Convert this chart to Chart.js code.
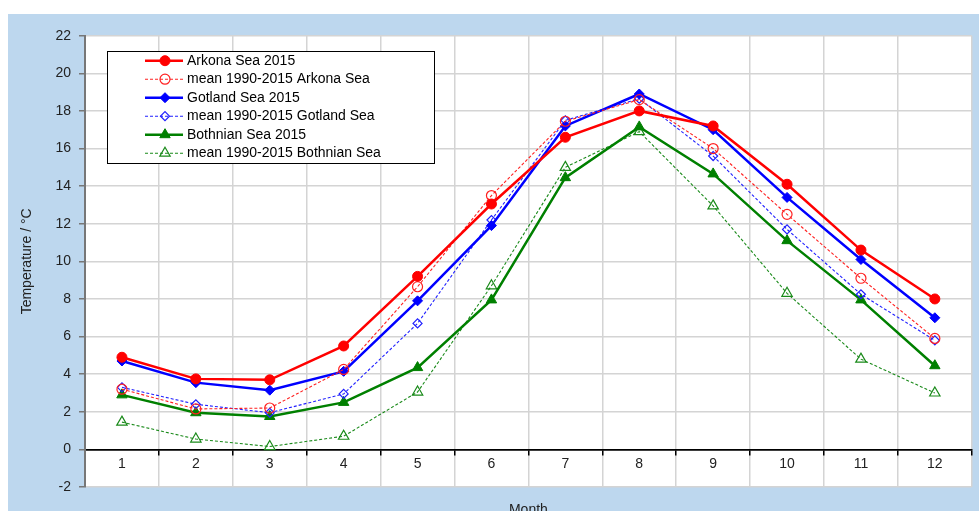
<!DOCTYPE html>
<html>
<head>
<meta charset="utf-8">
<script src="https://cdn.jsdelivr.net/npm/chart.js@4/dist/chart.umd.min.js"></script>
<style>
html,body{margin:0;padding:0;background:#fff;}
#wrap{width:979px;height:511px;}
</style>
</head>
<body>
<div id="wrap"><canvas id="c" width="979" height="511"></canvas></div>
<script>
const months = ['1','2','3','4','5','6','7','8','9','10','11','12'];
const arkona2015   = [4.9, 3.75, 3.7, 5.5, 9.2, 13.05, 16.6, 18.0, 17.2, 14.1, 10.6, 8.0];
const arkonaMean   = [3.2, 2.15, 2.2, 4.25, 8.65, 13.5, 17.45, 18.6, 16.0, 12.5, 9.1, 5.9];
const gotland2015  = [4.7, 3.55, 3.15, 4.15, 7.9, 11.9, 17.2, 18.9, 17.0, 13.4, 10.1, 7.0];
const gotlandMean  = [3.3, 2.4, 1.95, 2.95, 6.7, 12.2, 17.5, 18.65, 15.6, 11.7, 8.25, 5.8];
const bothnian2015 = [2.9, 1.95, 1.75, 2.5, 4.35, 7.95, 14.45, 17.15, 14.65, 11.1, 7.95, 4.45];
const bothnianMean = [1.45, 0.55, 0.15, 0.7, 3.05, 8.7, 15.0, 16.9, 12.95, 8.3, 4.8, 3.0];
const yTicks = [-2,0,2,4,6,8,10,12,14,16,18,20,22];

const FONT = "'Liberation Sans', Arial, sans-serif";

function solid(label, data, color, style, r) {
  return {label, data, borderColor: color, backgroundColor: color, borderWidth: 2.5,
    pointStyle: style, pointRadius: r, pointBackgroundColor: color, pointBorderColor: color,
    pointBorderWidth: 1, tension: 0};
}
function dashed(label, data, color, style, r) {
  return {label, data, borderColor: color, backgroundColor: 'rgba(0,0,0,0)', borderWidth: 1.1,
    borderDash: [3, 2], pointStyle: style, pointRadius: r, pointBackgroundColor: 'rgba(255,255,255,0)',
    pointBorderColor: color, pointBorderWidth: 1.2, tension: 0};
}

const datasets = [
  solid('Arkona Sea 2015', arkona2015, '#ff0000', 'circle', 5),
  dashed('mean 1990-2015 Arkona Sea', arkonaMean, '#ff2020', 'circle', 5),
  solid('Gotland Sea 2015', gotland2015, '#0000ff', 'rectRot', 5),
  dashed('mean 1990-2015 Gotland Sea', gotlandMean, '#2020ff', 'rectRot', 4.5),
  solid('Bothnian Sea 2015', bothnian2015, '#008000', 'triangle', 6),
  dashed('mean 1990-2015 Bothnian Sea', bothnianMean, '#1a8a1a', 'triangle', 6)
];

const LEG = {x: 107, y: 51, w: 327, h: 112, row0: 60.7, dy: 18.5, pad: 4.5};

const bgPlugin = {
  id: 'bg',
  beforeDraw(chart) {
    const {ctx, chartArea: a} = chart;
    ctx.save();
    ctx.fillStyle = '#ffffff';
    ctx.fillRect(0, 0, chart.width, chart.height);
    ctx.fillStyle = '#bdd7ee';
    ctx.fillRect(8, 14, chart.width - 8, chart.height - 14);
    ctx.fillStyle = '#ffffff';
    ctx.fillRect(a.left, a.top, a.right - a.left, a.bottom - a.top);
    ctx.restore();
  }
};

const legendPlugin = {
  id: 'legendBox',
  afterLayout(chart) {
    const lg = chart.legend;
    lg.left = LEG.x;
    lg.top = LEG.row0 - 7 - LEG.pad;
  },
  beforeDatasetsDraw(chart) {
    const ctx = chart.ctx;
    ctx.save();
    ctx.fillStyle = '#ffffff';
    ctx.fillRect(LEG.x + 0.5, LEG.y + 0.5, LEG.w, LEG.h);
    ctx.strokeStyle = '#000000';
    ctx.lineWidth = 1;
    ctx.strokeRect(LEG.x + 0.5, LEG.y + 0.5, LEG.w, LEG.h);
    chart.data.datasets.forEach((ds, i) => {
      const y = LEG.row0 + LEG.dy * i;
      ctx.beginPath();
      ctx.setLineDash(ds.borderDash || []);
      ctx.lineWidth = ds.borderWidth;
      ctx.strokeStyle = ds.borderColor;
      ctx.moveTo(145, y);
      ctx.lineTo(183, y);
      ctx.stroke();
      ctx.setLineDash([]);
      ctx.fillStyle = ds.pointBackgroundColor;
      ctx.strokeStyle = ds.pointBorderColor;
      ctx.lineWidth = ds.pointBorderWidth;
      Chart.helpers.drawPoint(ctx, {pointStyle: ds.pointStyle, radius: ds.pointRadius,
        borderWidth: ds.pointBorderWidth, rotation: 0}, 165, y);
    });
    ctx.restore();
    chart.legend.draw();
  }
};

new Chart(document.getElementById('c'), {
  type: 'line',
  data: {labels: months, datasets},
  plugins: [bgPlugin, legendPlugin],
  options: {
    responsive: false,
    animation: false,
    devicePixelRatio: 1,
    layout: {padding: {left: 14, top: 35.7, right: 6, bottom: 24}},
    plugins: {
      tooltip: {enabled: false},
      title: {display: false},
      legend: {
        display: true,
        position: 'chartArea',
        align: 'start',
        labels: {
          font: {family: FONT, size: 14},
          color: '#000',
          boxWidth: 68.5,
          boxHeight: 14,
          padding: 4.5,
          generateLabels(chart) {
            return chart.data.datasets.map((ds, i) => ({
              text: ds.label, fillStyle: 'rgba(0,0,0,0)', strokeStyle: 'rgba(0,0,0,0)',
              lineWidth: 0, hidden: false, datasetIndex: i, fontColor: '#000'
            }));
          }
        }
      }
    },
    scales: {
      x: {
        type: 'category',
        position: {y: 0},
        offset: true,
        grid: {offset: true, color: '#d4d4d4', lineWidth: 1.5, tickColor: '#000', tickLength: 5, tickWidth: 1.5},
        border: {color: '#000', width: 1.5},
        ticks: {font: {family: FONT, size: 14}, color: '#222', padding: 1, maxRotation: 0, autoSkip: false},
        title: {display: true, text: 'Month', font: {family: FONT, size: 14}, color: '#222', padding: {top: 29, bottom: 0}}
      },
      y: {
        min: -2, max: 22,
        afterFit(scale) { scale.width = 71; },
        afterBuildTicks(scale) { scale.ticks = yTicks.map(v => ({value: v})); },
        grid: {color: (c) => (c.tick && c.tick.value === 0 ? '#000' : '#d4d4d4'), lineWidth: 1.5,
               tickColor: '#777', tickLength: 6, tickWidth: 1.5},
        border: {color: '#777', width: 2},
        ticks: {font: {family: FONT, size: 14}, color: '#222', padding: 8},
        title: {display: true, text: 'Temperature / °C', font: {family: FONT, size: 14}, color: '#222', padding: {top: 5, bottom: 0}}
      }
    }
  }
});
</script>
</body>
</html>
